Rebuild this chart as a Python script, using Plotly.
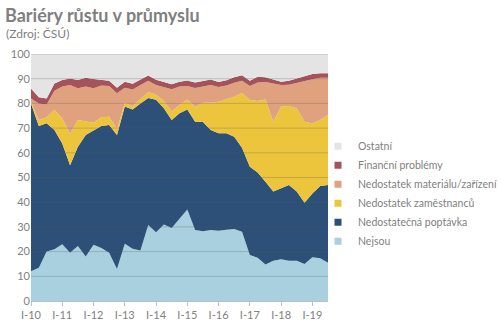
import plotly.graph_objects as go

# Quarters I-10 .. III-19
quarters = [
    "I-10", "II-10", "III-10", "IV-10",
    "I-11", "II-11", "III-11", "IV-11",
    "I-12", "II-12", "III-12", "IV-12",
    "I-13", "II-13", "III-13", "IV-13",
    "I-14", "II-14", "III-14", "IV-14",
    "I-15", "II-15", "III-15", "IV-15",
    "I-16", "II-16", "III-16", "IV-16",
    "I-17", "II-17", "III-17", "IV-17",
    "I-18", "II-18", "III-18", "IV-18",
    "I-19", "II-19", "III-19",
]

# Shares of firms by main barrier (%)
nejsou = [12, 13.5, 20, 21, 23, 19.5, 22.3, 18, 22.8, 21.5, 19.5, 13, 23.2, 21.2, 20.4, 30.8,
          27.8, 31, 29.6, 33.5, 37, 28.7, 28.2, 28.7, 28.4, 28.8, 29.2, 28, 18.6, 17.5, 14.8,
          16.3, 16.9, 16.3, 16.3, 15, 17.7, 17.3, 15.5]
poptavka = [68, 57.3, 52, 48.2, 40.8, 35.5, 40.2, 49.2, 46.2, 49.4, 51.8, 54.2, 55.5, 56.3, 59.6, 51.4,
            53.7, 47, 43.7, 42.5, 40.5, 43.9, 44.3, 40.5, 39.5, 39.1, 37.3, 34, 35.8, 34.5, 33.5,
            28, 28.7, 30.7, 28, 24.8, 25.8, 29.3, 31.5]
zamestnanci = [0.7, 2.5, 2.4, 8.1, 10.2, 12.6, 10.8, 5.7, 3.2, 3.5, 3.3, 2.3, 1.5, 1.3, 1.8, 2.4,
               2, 3, 3.5, 3.4, 4.1, 5.9, 7.8, 11.1, 12.8, 13.7, 16.2, 22.2, 27, 29, 33.3,
               28.3, 33.1, 31.9, 33.7, 32.8, 28.4, 26.7, 28.3]
material = [1.3, 6.7, 5.2, 7.8, 12.8, 19.8, 12.8, 13.9, 13.9, 12.8, 12.4, 14.6, 6.1, 6.8, 5.6, 4.6,
            3.9, 5.4, 8.9, 7.4, 5.4, 7.7, 6.5, 7.1, 5.9, 5.6, 5.7, 5, 5.6, 7.5, 7.1,
            15.4, 8.7, 8.7, 10.4, 16.4, 17.9, 17.1, 15.1]
financni = [4, 2.5, 2.4, 3, 2.7, 2.7, 3.4, 3.6, 3.8, 2.5, 2.2, 2.2, 2.5, 2.4, 2.2, 2.1,
            2.2, 2.2, 2.1, 2, 2.3, 2.3, 2.2, 2.3, 2.1, 2.2, 2.2, 2.2, 2.2, 2.3, 1.9,
            1.7, 1.4, 1.6, 1.7, 1.8, 2.1, 1.8, 1.8]
ostatni = [14, 17.5, 18, 11.9, 10.5, 9.9, 10.5, 9.6, 10.1, 10.3, 10.8, 13.7, 11.2, 12, 10.4, 8.7,
           10.4, 11.4, 12.2, 11.2, 10.7, 11.5, 11, 10.3, 11.3, 10.6, 9.4, 8.6, 10.8, 9.2, 9.4,
           10.3, 11.2, 10.8, 9.9, 9.2, 8.1, 7.8, 7.8]

year_ticks = ["I-10", "I-11", "I-12", "I-13", "I-14", "I-15", "I-16", "I-17", "I-18", "I-19"]
y_ticks = [0, 10, 20, 30, 40, 50, 60, 70, 80, 90, 100]

series = [
    ("Nejsou", nejsou, "#a9d0de"),
    ("Nedostatečná poptávka", poptavka, "#2d5078"),
    ("Nedostatek zaměstnanců", zamestnanci, "#edc53c"),
    ("Nedostatek materiálu/zařízení", material, "#e0a27e"),
    ("Finanční problémy", financni, "#a5525b"),
    ("Ostatní", ostatni, "#e4e4e4"),
]

FONT = "Lato"
GREY = "#7f7f7f"
PLOT_W = 500 - 31 - 172

fig = go.Figure()
for name, vals, color in series:
    fig.add_trace(go.Scatter(
        x=quarters, y=vals, name=name, stackgroup="bariery",
        mode="lines", line=dict(width=0, color=color), fillcolor=color,
        showlegend=False, hoverinfo="skip",
    ))

# Legend entries with square swatches, top to bottom
for name, vals, color in reversed(series):
    fig.add_trace(go.Scatter(
        x=[None], y=[None], name=name, mode="markers",
        marker=dict(symbol="square", size=7, color=color),
    ))

# Horizontal gridlines drawn over the areas
for v in y_ticks[1:]:
    fig.add_shape(type="line", xref="paper", x0=0, x1=1, yref="y", y0=v, y1=v,
                  line=dict(color="rgba(90,90,90,0.28)", width=1), layer="above")

fig.update_layout(
    width=500, height=326,
    margin=dict(l=31, r=172, t=54, b=25, autoexpand=False),
    paper_bgcolor="white", plot_bgcolor="white",
    font=dict(family=FONT, size=11, color=GREY),
    title=dict(text="<b>Bariéry růstu v průmyslu</b>", font=dict(family=FONT, size=18, color=GREY),
               xref="container", x=0.01, xanchor="left", yref="container", y=0.972, yanchor="top"),
    annotations=[dict(text="(Zdroj: ČSÚ)", xref="paper", yref="paper", x=-27 / PLOT_W, y=1.085,
                      xanchor="left", yanchor="middle", showarrow=False,
                      font=dict(family=FONT, size=12, color=GREY))],
    legend=dict(x=1.0 - 10 / PLOT_W, xanchor="left", y=0.685, yanchor="top", traceorder="normal",
                font=dict(family=FONT, size=10.5, color=GREY), tracegroupgap=0,
                bgcolor="rgba(0,0,0,0)"),
    showlegend=True,
)
fig.update_xaxes(
    type="category", range=[0, len(quarters) - 1], tickmode="array", tickvals=year_ticks,
    ticktext=year_ticks, ticks="outside", ticklen=4, tickcolor="#bfbfbf",
    showline=True, linecolor="#bfbfbf", showgrid=False, zeroline=False, automargin=False,
    tickfont=dict(family=FONT, size=11, color=GREY),
)
fig.update_yaxes(
    range=[0, 100], tickvals=y_ticks, showgrid=False, zeroline=False, showline=False,
    ticks="", automargin=False, tickfont=dict(family=FONT, size=11, color=GREY),
)

fig.write_html("out.html")
